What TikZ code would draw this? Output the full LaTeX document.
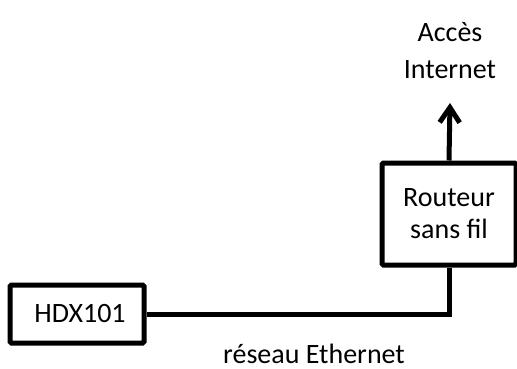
\documentclass[tikz,border=0pt]{standalone}
\usepackage{fontspec}
\setmainfont{Carlito}
\usetikzlibrary{arrows.meta}
\begin{document}
\begin{tikzpicture}[x=1pt,y=-1pt,
    box/.style={draw,line width=5pt,rounded corners=1.5pt,align=center,
        font=\fontsize{28}{32}\selectfont},
    wire/.style={line width=5pt}]
    % Frame of the picture
    \useasboundingbox (0,0) rectangle (517,369);

    % The two boxes
    \node (hdx) at (77,314) [box,minimum width=134pt,minimum height=58pt] {\hspace{6pt}HDX101};
    \node (rtr) at (449,214) [box,minimum width=134pt,minimum height=102pt] {Routeur\\sans fil};

    % Label above the arrow
    \node (net) at (450,78) [anchor=base,align=center,
        font=\fontsize{28}{36}\selectfont] {Accès\\Internet};
    \coordinate (tip) at (450,103); % end of the arrow

    % Links
    \draw[wire] (hdx.east) -| (rtr.south);
    \draw[wire,-{Straight Barb[length=15pt,width=20pt]}] (rtr.north) -- (tip);

    % Label under the network line
    \node (eth) at (314,363) [anchor=base,font=\fontsize{28}{32}\selectfont] {réseau Ethernet};
\end{tikzpicture}
\end{document}
